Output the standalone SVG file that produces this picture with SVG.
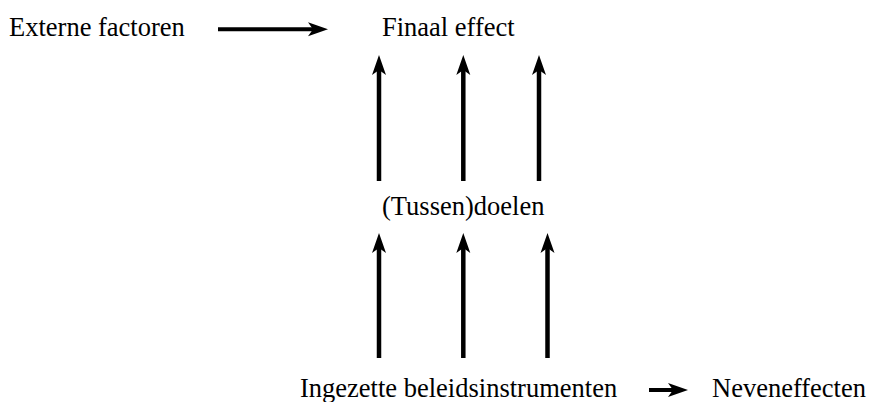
<svg xmlns="http://www.w3.org/2000/svg" width="876" height="402" viewBox="0 0 876 402">
  <style>
    .lbl { font-family: "Liberation Serif", "Times New Roman", serif; font-size: 26.5px; fill: #000; }
    .conn { stroke: #000; fill: none; marker-end: url(#head); }
    .v { stroke-width: 4.5; }
    .h { stroke-width: 4; }
  </style>
  <defs>
    <!-- notched arrowhead; origin sits at the notch where the shaft ends -->
    <marker id="head" markerUnits="userSpaceOnUse" orient="auto" refX="0" refY="0"
            markerWidth="30" markerHeight="30" viewBox="-10 -15 30 30" overflow="visible">
      <path d="M15,0 L-5,-7 L0,0 L-5,7 Z" fill="#000"/>
    </marker>
  </defs>

  <rect width="876" height="402" fill="#fff"/>

  <g id="externe-factoren"><text class="lbl" x="9" y="35.5">Externe factoren</text></g>
  <g id="finaal-effect"><text class="lbl" x="382" y="35.5">Finaal effect</text></g>
  <g id="tussendoelen"><text class="lbl" x="382" y="214.5">(Tussen)doelen</text></g>
  <g id="beleidsinstrumenten"><text class="lbl" x="300" y="397">Ingezette beleidsinstrumenten</text></g>
  <g id="neveneffecten"><text class="lbl" x="712" y="397">Neveneffecten</text></g>

  <g id="connectors">
    <!-- external factors to final effect -->
    <line class="conn h" x1="218" y1="29.3" x2="313" y2="29.3"/>
    <!-- intermediate goals to final effect -->
    <line class="conn v" x1="379" y1="181" x2="379" y2="70"/>
    <line class="conn v" x1="463.3" y1="181" x2="463.3" y2="70"/>
    <line class="conn v" x1="539" y1="181" x2="539" y2="70"/>
    <!-- instruments to intermediate goals -->
    <line class="conn v" x1="379" y1="358" x2="379" y2="248"/>
    <line class="conn v" x1="463.3" y1="358" x2="463.3" y2="248"/>
    <line class="conn v" x1="547.5" y1="358" x2="547.5" y2="248"/>
    <!-- instruments to side effects -->
    <line class="conn h" x1="649" y1="390" x2="673" y2="390"/>
  </g>
</svg>
